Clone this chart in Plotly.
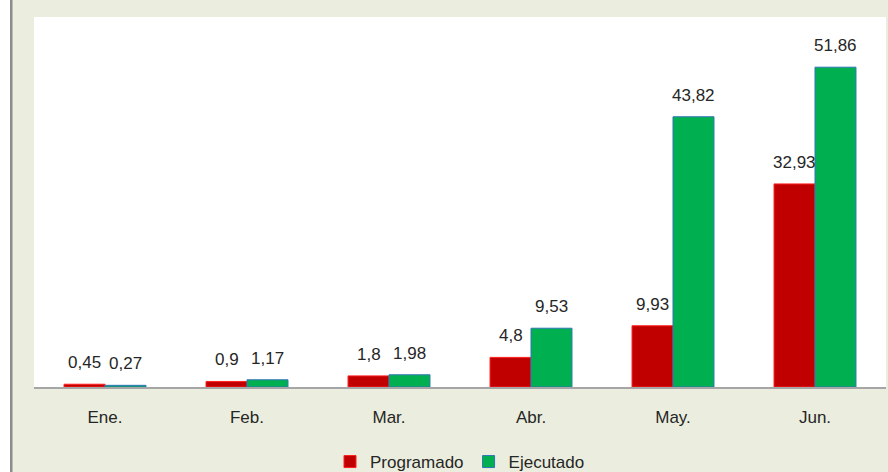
import plotly.graph_objects as go

categories = ["Ene.", "Feb.", "Mar.", "Abr.", "May.", "Jun."]
programado = [0.45, 0.9, 1.8, 4.8, 9.93, 32.93]
ejecutado = [0.27, 1.17, 1.98, 9.53, 43.82, 51.86]
prog_labels = ["0,45", "0,9", "1,8", "4,8", "9,93", "32,93"]
ejec_labels = ["0,27", "1,17", "1,98", "9,53", "43,82", "51,86"]

FONT = "Liberation Sans"
BG = "#EBEEDE"

fig = go.Figure()
fig.add_trace(go.Bar(
    name="Programado", x=categories, y=programado,
    marker=dict(color="#C00000", line=dict(color="#FF2020", width=1)),
))
fig.add_trace(go.Bar(
    name="Ejecutado", x=categories, y=ejecutado,
    marker=dict(color="#00B050", line=dict(color="#2E75B6", width=1)),
))

annotations = []
for vals, labs, shift in [(programado, prog_labels, -20.5), (ejecutado, ejec_labels, 20.5)]:
    for c, v, t in zip(categories, vals, labs):
        annotations.append(dict(
            x=c, y=v, xref="x", yref="y", text=t, showarrow=False,
            xshift=shift, yshift=10, yanchor="bottom",
            font=dict(family=FONT, size=17, color="#262626"),
        ))

W, H = 888, 472
L, R, T, B = 34, 2, 17, 85
pw = W - L - R
ph = H - T - B

def px_x(p):
    return (p - L) / pw

fig.update_layout(
    width=W, height=H,
    margin=dict(l=L, r=R, t=T, b=B, pad=0, autoexpand=False),
    paper_bgcolor=BG, plot_bgcolor="white",
    barmode="group", bargap=0.423, bargroupgap=0,
    showlegend=True,
    legend=dict(orientation="h", x=0.5, xanchor="center", y=-(462 - 387) / ph,
                yanchor="middle", font=dict(family=FONT, size=17, color="#262626"),
                bgcolor="rgba(0,0,0,0)", itemwidth=30, traceorder="normal"),
    annotations=annotations,
    shapes=[
        dict(type="rect", xref="paper", yref="paper", x0=px_x(0), x1=px_x(10),
             y0=-B / ph - 0.01, y1=1 + T / ph + 0.01, fillcolor="white", line=dict(width=0), layer="below"),
        dict(type="rect", xref="paper", yref="paper", x0=px_x(10), x1=px_x(12.5),
             y0=-B / ph - 0.01, y1=1 + T / ph + 0.01, fillcolor="#8C8C8C", line=dict(width=0), layer="below"),
    ],
    font=dict(family=FONT, size=17, color="#262626"),
)
fig.update_xaxes(
    showline=True, linecolor="#A6A6A6", linewidth=1.5, showgrid=False,
    ticks="", ticklabelstandoff=14,
    tickfont=dict(family=FONT, size=17, color="#262626"),
)
fig.update_yaxes(range=[0, 60], visible=False, showgrid=False, zeroline=False)

fig.write_html(
    "out.html",
    config={"displayModeBar": False},
    post_script="document.body.style.margin='0';document.body.style.padding='0';document.body.style.overflow='hidden';",
)
